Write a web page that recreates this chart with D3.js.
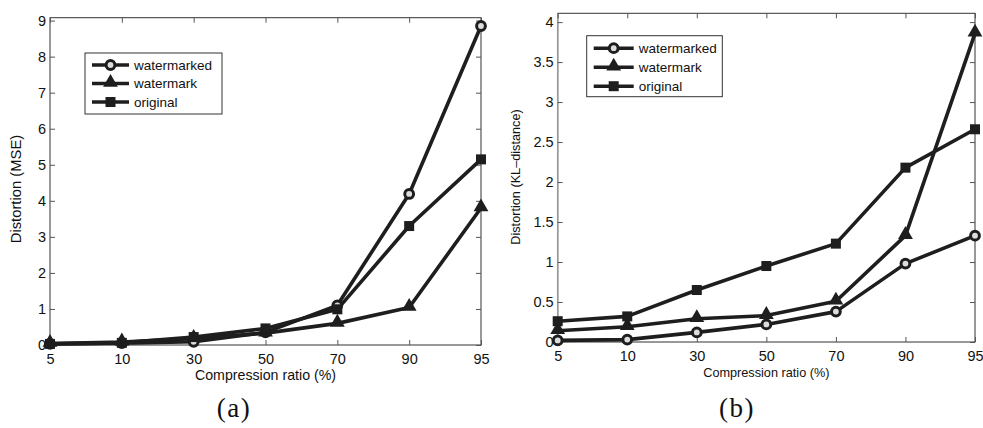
<!DOCTYPE html>
<html>
<head>
<meta charset="utf-8">
<script src="https://cdn.jsdelivr.net/npm/d3@7"></script>
<style>
  body { margin: 0; background: #fff; }
  svg { display: block; font-family: "Liberation Sans", Arial, sans-serif; }
</style>
</head>
<body>
<div id="chart"></div>
<script>
const categories = ['5', '10', '30', '50', '70', '90', '95'];
const seriesNames = ['watermarked', 'watermark', 'original'];

// (a) MSE
const mseWatermarked = [0.03, 0.05, 0.09, 0.35, 1.1, 4.19, 8.85];
const mseWatermark = [0.04, 0.08, 0.18, 0.33, 0.6, 1.04, 3.8];
const mseOriginal = [0.03, 0.06, 0.22, 0.46, 0.99, 3.3, 5.15];
const mseTicks = [0, 1, 2, 3, 4, 5, 6, 7, 8, 9];

// (b) KL-distance
const klWatermarked = [0.02, 0.03, 0.12, 0.22, 0.38, 0.98, 1.33];
const klWatermark = [0.14, 0.19, 0.29, 0.33, 0.51, 1.33, 3.86];
const klOriginal = [0.26, 0.32, 0.65, 0.95, 1.23, 2.18, 2.66];
const klTicks = [0, 0.5, 1, 1.5, 2, 2.5, 3, 3.5, 4];

const W = 983, H = 428;
const ink = '#1e1e1e';
const sans = '"Liberation Sans", Arial, sans-serif';

const svg = d3.select('#chart').append('svg')
  .attr('width', W)
  .attr('height', H);

function drawMarker(g, type, x, y) {
  if (type === 'circle') {
    g.append('circle')
      .attr('cx', x).attr('cy', y).attr('r', 4.4)
      .attr('fill', '#ddd').attr('stroke', ink).attr('stroke-width', 3);
  } else if (type === 'triangle') {
    g.append('path')
      .attr('d', d3.symbol().type(d3.symbolTriangle).size(95)())
      .attr('transform', 'translate(' + x + ',' + (y - 1) + ')')
      .attr('fill', ink);
  } else {
    g.append('rect')
      .attr('x', x - 5).attr('y', y - 5).attr('width', 10).attr('height', 10)
      .attr('fill', ink);
  }
}

function drawPanel(p) {
  const x = d3.scalePoint().domain(categories).range([p.left, p.right]);
  const y = d3.scaleLinear().domain([0, p.ymax]).range([p.bottom, p.top]);
  const g = svg.append('g');

  // frame
  g.append('rect')
    .attr('x', p.left).attr('y', p.top)
    .attr('width', p.right - p.left).attr('height', p.bottom - p.top)
    .attr('fill', 'none').attr('stroke', '#333').attr('stroke-width', 1);
  g.append('line')
    .attr('x1', p.left).attr('x2', p.left).attr('y1', p.top).attr('y2', p.bottom)
    .attr('stroke', '#999').attr('stroke-width', 1.5);

  // axes with inward ticks
  const xAxis = g.append('g').attr('transform', 'translate(0,' + p.bottom + ')')
    .call(d3.axisBottom(x).tickSizeInner(-5).tickSizeOuter(0).tickPadding(9));
  const xTop = g.append('g').attr('transform', 'translate(0,' + p.top + ')')
    .call(d3.axisTop(x).tickSizeInner(-5).tickSizeOuter(0).tickFormat(''));
  const yAxis = g.append('g').attr('transform', 'translate(' + p.left + ',0)')
    .call(d3.axisLeft(y).tickValues(p.ticks).tickFormat(d => String(d))
      .tickSizeInner(-5).tickSizeOuter(0).tickPadding(4));
  const yRight = g.append('g').attr('transform', 'translate(' + p.right + ',0)')
    .call(d3.axisRight(y).tickValues(p.ticks).tickSizeInner(-5).tickSizeOuter(0).tickFormat(''));
  [xAxis, xTop, yAxis, yRight].forEach(a => {
    a.select('.domain').remove();
    a.selectAll('.tick line').attr('stroke', '#555');
  });
  [xAxis, yAxis].forEach(a => a.selectAll('text')
    .attr('font-size', 14.5).attr('fill', '#111').attr('font-family', sans));

  // series
  const line = d3.line().x((d, i) => x(categories[i])).y(d => y(d));
  p.series.forEach(s => {
    g.append('path')
      .datum(s)
      .attr('d', line)
      .attr('fill', 'none')
      .attr('stroke', ink)
      .attr('stroke-width', 3.6)
      .attr('stroke-linejoin', 'round');
  });
  p.series.forEach((s, k) => {
    s.forEach((v, i) => drawMarker(g, p.markers[k], x(categories[i]), y(v)));
  });

  // axis labels
  g.append('text')
    .attr('x', (p.left + p.right) / 2).attr('y', p.bottom + 35)
    .attr('text-anchor', 'middle').attr('font-size', p.xlabelSize).attr('fill', '#111')
    .text('Compression ratio (%)');
  g.append('text')
    .attr('transform', 'translate(' + p.ylabelX + ',' + p.ylabelY + ') rotate(-90)')
    .attr('text-anchor', 'middle').attr('dy', '0.35em')
    .attr('font-size', p.ylabelSize).attr('fill', '#111')
    .text(p.ylabel);

  // legend
  const lg = g.append('g');
  lg.append('rect')
    .attr('x', p.legend.x).attr('y', p.legend.y)
    .attr('width', p.legend.w).attr('height', p.legend.h)
    .attr('fill', '#fff').attr('stroke', '#333').attr('stroke-width', 1);
  seriesNames.forEach((name, k) => {
    const ly = p.legend.y + p.legend.first + k * p.legend.step;
    const lx0 = p.legend.x + 7, lx1 = lx0 + p.legend.lineLen;
    lg.append('line')
      .attr('x1', lx0).attr('x2', lx1).attr('y1', ly).attr('y2', ly)
      .attr('stroke', ink).attr('stroke-width', 3.6);
    drawMarker(lg, p.markers[k], (lx0 + lx1) / 2, ly);
    lg.append('text')
      .attr('x', lx1 + 5).attr('y', ly).attr('dy', '0.35em')
      .attr('font-size', p.legend.fontSize).attr('fill', '#111')
      .text(name);
  });

  // caption
  svg.append('text')
    .attr('x', p.captionX).attr('y', 417)
    .attr('text-anchor', 'middle')
    .attr('font-family', '"Liberation Serif", "DejaVu Serif", serif')
    .attr('font-size', 27).attr('letter-spacing', 1.5).attr('fill', '#111')
    .text(p.caption);
}

drawPanel({
  left: 50, right: 481, top: 17.7, bottom: 345, ymax: 9.08,
  ticks: mseTicks,
  series: [mseWatermarked, mseWatermark, mseOriginal],
  markers: ['circle', 'triangle', 'square'],
  ylabel: 'Distortion (MSE)', ylabelX: 16, ylabelY: 189, ylabelSize: 14.8, xlabelSize: 14.2,
  legend: { x: 85, y: 53, w: 137, h: 61, first: 12, step: 18.5, lineLen: 37, fontSize: 13.5 },
  caption: '(a)', captionX: 234
});

drawPanel({
  left: 557.7, right: 975, top: 13.3, bottom: 342, ymax: 4.11,
  ticks: klTicks,
  series: [klWatermarked, klWatermark, klOriginal],
  markers: ['circle', 'triangle', 'square'],
  ylabel: 'Distortion (KL\u2013distance)', ylabelX: 516, ylabelY: 177, ylabelSize: 12.7, xlabelSize: 12.7,
  legend: { x: 586.7, y: 35.7, w: 135.6, h: 61, first: 12.5, step: 19, lineLen: 40, fontSize: 13.5 },
  caption: '(b)', captionX: 737
});
</script>
</body>
</html>
